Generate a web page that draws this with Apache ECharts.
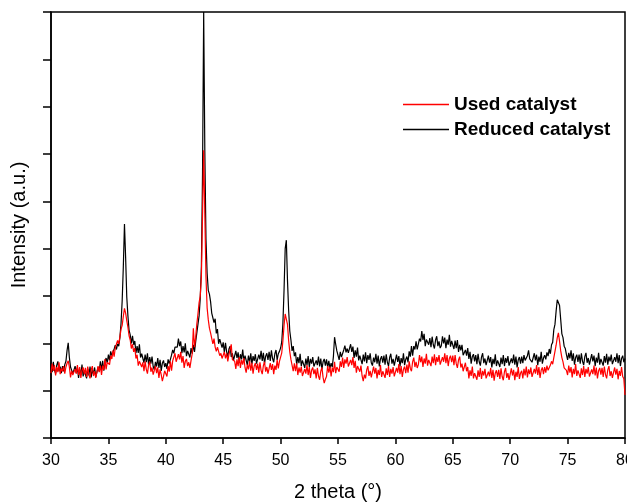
<!DOCTYPE html>
<html>
<head>
<meta charset="utf-8">
<script src="https://cdn.jsdelivr.net/npm/echarts@6/dist/echarts.min.js"></script>
<style>
html,body{margin:0;padding:0;background:#fff;}
#chart{width:627px;height:502px;}
</style>
</head>
<body>
<div id="chart"></div>
<script>
// 2θ sampling grid (degrees)
const angleStart = 30;
const angleStep = 0.1;
const xTicks = [30, 35, 40, 45, 50, 55, 60, 65, 70, 75, 80];

const seriesNames = ['Used catalyst', 'Reduced catalyst'];

// Reduced catalyst intensity (a.u.), one row per degree 30..79, then 80.0
const reducedCatalyst = [
158,139,161,144,136,154,162,141,151,137,
152,141,155,162,185,201,170,150,146,136,
132,152,137,149,127,145,134,155,130,142,
142,126,146,132,151,128,145,135,149,129,
129,149,141,162,143,163,142,161,169,158,
176,164,183,174,172,188,196,187,199,194,
212,242,290,362,452,382,298,258,228,218,
200,216,197,205,179,194,180,198,170,178,
176,159,176,160,179,155,171,157,172,151,
144,161,151,169,148,165,142,158,164,150,
158,146,166,157,154,175,186,179,192,188,
192,210,194,204,179,194,181,200,173,184,
184,170,190,178,197,182,203,207,240,258,
295,362,560,900,605,420,348,312,304,288,
264,268,244,252,221,230,199,209,209,191,
202,181,201,182,172,188,194,171,179,164,
164,184,169,181,159,177,166,187,162,174,
170,154,174,160,179,156,173,163,177,157,
159,176,166,184,163,180,157,173,179,165,
182,163,185,168,160,178,186,165,178,183,
190,203,242,312,400,418,333,270,226,207,
184,194,173,181,155,171,158,178,152,164,
164,148,168,154,173,150,167,157,171,151,
147,164,154,172,151,168,145,161,167,153,
166,149,163,147,158,150,172,213,198,184,
184,165,182,171,168,186,195,181,189,180,
179,198,182,193,169,185,172,191,164,174,
172,156,176,162,181,158,175,165,179,159,
153,170,160,178,157,174,151,167,173,159,
174,155,177,160,152,170,178,157,167,153,
156,176,161,173,151,169,158,179,154,166,
172,160,183,172,194,174,194,187,204,187,
189,210,204,226,207,220,194,208,212,197,
211,192,214,197,189,207,215,194,204,190,
195,215,200,212,190,208,197,218,193,205,
206,188,206,190,207,182,197,185,197,175,
171,186,174,190,167,182,157,172,177,162,
175,156,178,161,153,171,179,158,168,154,
154,174,159,171,149,167,156,177,152,164,
166,150,170,156,175,152,169,159,173,153,
151,168,158,176,155,172,149,165,171,157,
172,158,175,164,160,174,185,167,170,160,
159,179,164,176,154,172,161,182,157,169,
175,166,181,173,188,178,197,202,229,240,
268,292,296,280,250,220,212,194,189,176,
165,180,168,185,163,179,155,170,176,161,
176,157,179,162,154,172,180,159,169,155,
157,177,162,174,152,170,159,180,155,167,
169,153,173,159,178,155,172,162,176,156,
154,171,161,179,158,175,152,168,174,160,
168
];

// Used catalyst intensity (a.u.), one row per degree 30..79, then 80.0
const usedCatalyst = [
137,157,142,154,132,150,139,160,135,147,
141,152,136,150,158,163,150,128,142,133,
129,146,136,154,133,150,127,143,149,135,
148,129,151,134,126,144,152,131,141,127,
130,152,139,153,133,153,144,167,145,160,
163,155,174,167,185,172,191,189,206,199,
213,230,238,257,274,264,248,234,216,207,
189,198,182,190,168,176,153,162,163,150,
160,141,162,145,136,154,161,140,149,134,
132,152,137,149,127,145,134,120,130,142,
144,130,152,140,162,142,163,159,179,161,
161,177,166,182,159,173,148,162,167,152,
160,148,164,178,232,192,212,240,262,286,
300,340,470,608,470,340,275,250,232,222,
222,199,210,192,183,192,194,174,179,168,
166,182,168,179,162,176,172,198,166,170,
162,146,166,152,171,148,165,155,169,149,
138,155,145,163,142,159,136,152,158,144,
157,138,160,143,135,153,161,140,150,136,
138,158,144,156,135,153,144,165,147,162,
165,180,205,238,262,266,240,206,182,166,
162,141,158,141,158,133,149,138,151,131,
129,146,136,154,133,150,127,143,149,135,
145,126,148,131,123,141,149,128,116,124,
130,152,138,151,130,149,139,161,137,150,
154,140,162,150,170,148,166,157,171,151,
149,165,154,171,148,163,138,152,156,140,
153,131,120,134,126,144,152,131,142,128,
131,151,136,148,126,144,133,154,129,141,
143,127,147,133,152,129,146,136,150,130,
131,148,138,156,135,152,129,145,151,137,
155,138,162,147,141,161,170,150,161,148,
155,175,160,172,150,168,157,178,153,165,
168,152,172,158,177,154,171,161,175,155,
154,171,161,179,158,175,152,168,174,160,
174,154,175,157,148,165,172,149,157,141,
142,159,141,150,126,143,131,151,126,137,
139,123,143,129,148,125,142,132,146,126,
123,140,130,148,127,144,121,137,143,129,
144,125,147,130,122,140,148,127,137,123,
127,147,132,144,122,140,129,150,125,137,
142,126,146,132,151,128,145,135,149,129,
129,146,136,154,133,150,127,143,149,135,
150,138,153,143,141,154,162,156,170,174,
196,212,222,204,184,170,161,148,150,143,
133,153,138,150,128,146,135,156,131,143,
143,127,147,133,152,129,146,136,150,130,
128,145,135,153,132,149,126,142,148,134,
148,129,151,134,126,144,152,131,141,127,
129,149,134,146,124,142,131,150,130,125,
91
];

function toPairs(values) {
  return values.map((v, i) => [+(angleStart + i * angleStep).toFixed(2), v]);
}

const FONT = 'Liberation Sans, Arial, sans-serif';
const chart = echarts.init(document.getElementById('chart'), null, {renderer: 'canvas'});
chart.setOption({
  animation: false,
  backgroundColor: '#fff',
  grid: {
    left: 51, right: 2, top: 12, bottom: 64,
    outerBoundsMode: 'none',
    containLabel: false,
    show: true, borderColor: '#000', borderWidth: 1.5, backgroundColor: 'transparent'
  },
  legend: {
    data: seriesNames,
    orient: 'vertical',
    left: 403,
    top: 95,
    padding: 0,
    icon: 'rect',
    itemWidth: 46,
    itemHeight: 1.5,
    itemGap: 6,
    textStyle: {fontFamily: FONT, fontSize: 19, fontWeight: 'bold', color: '#000', lineHeight: 19}
  },
  xAxis: {
    type: 'value',
    min: xTicks[0],
    max: xTicks[xTicks.length - 1],
    interval: 5,
    name: '2 theta (°)',
    nameLocation: 'middle',
    nameGap: 44,
    nameTextStyle: {fontFamily: FONT, fontSize: 20, color: '#000'},
    axisLine: {show: true, onZero: false, lineStyle: {color: '#000', width: 1.5}},
    axisTick: {show: true, inside: false, length: 6, lineStyle: {color: '#000', width: 1.5}},
    axisLabel: {fontFamily: FONT, fontSize: 16, color: '#000', margin: 15},
    splitLine: {show: false}
  },
  yAxis: {
    type: 'value',
    min: 0,
    max: 900,
    interval: 100,
    name: 'Intensity (a.u.)',
    nameLocation: 'middle',
    nameGap: 22,
    nameTextStyle: {fontFamily: FONT, fontSize: 20, color: '#000'},
    axisLine: {show: true, onZero: false, lineStyle: {color: '#000', width: 1.5}},
    axisTick: {show: true, inside: false, length: 8, lineStyle: {color: '#000', width: 1.5}},
    axisLabel: {show: false},
    splitLine: {show: false}
  },
  series: [
    {
      name: seriesNames[1],
      type: 'line',
      data: toPairs(reducedCatalyst),
      symbol: 'none',
      lineStyle: {color: '#000', width: 1.2},
      itemStyle: {color: '#000'}
    },
    {
      name: seriesNames[0],
      type: 'line',
      data: toPairs(usedCatalyst),
      symbol: 'none',
      lineStyle: {color: '#ff0000', width: 1.2},
      itemStyle: {color: '#ff0000'}
    }
  ]
});
</script>
</body>
</html>
